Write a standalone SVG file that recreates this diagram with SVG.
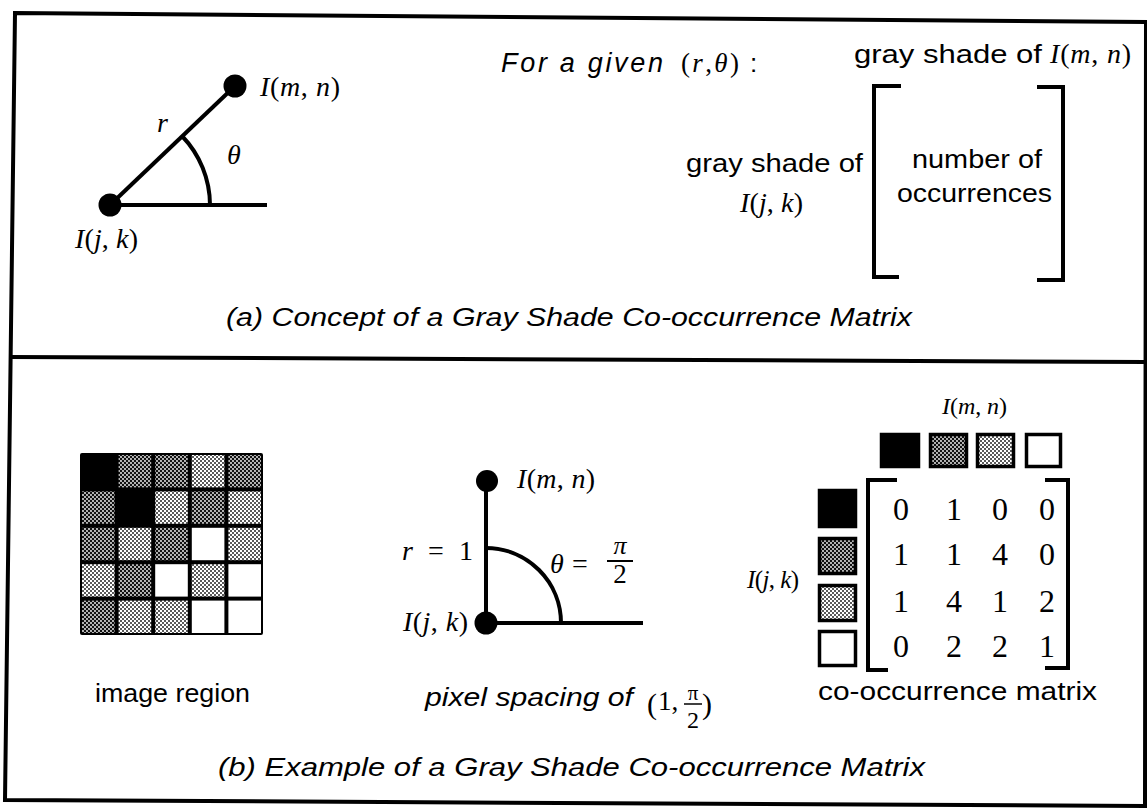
<svg xmlns="http://www.w3.org/2000/svg" width="1147" height="808" viewBox="0 0 1147 808">
<style>
.sans{font-family:"Liberation Sans",Arial,sans-serif;fill:#000}
.si{font-family:"Liberation Sans",Arial,sans-serif;font-style:italic;fill:#000}
.m{font-family:"Liberation Serif","Times New Roman",serif;fill:#000}
.i{font-style:italic}
.ln{stroke:#000;stroke-width:4;fill:none}
.br{stroke:#000;stroke-width:4;fill:none}
.sw{stroke:#000;stroke-width:3.5}
.dot{fill:#000}
</style>
<defs>
<pattern id="dk" width="4" height="4" patternUnits="userSpaceOnUse">
<rect width="4" height="4" fill="#111"/>
<circle cx="1" cy="1" r="0.9" fill="#fff"/>
<circle cx="3" cy="3" r="0.9" fill="#fff"/>
</pattern>
<pattern id="lt" width="4" height="4" patternUnits="userSpaceOnUse">
<rect width="4" height="4" fill="#fff"/>
<circle cx="1" cy="1" r="1" fill="#222"/>
<circle cx="3" cy="3" r="1" fill="#222"/>
</pattern>
</defs>
<rect width="1147" height="808" fill="#fff"/>

<g id="frame">
<polygon points="15,13 1146,22 1145,806 5,800" fill="none" stroke="#000" stroke-width="4"/>
<line x1="10" y1="357" x2="1146" y2="362" stroke="#000" stroke-width="4"/>
</g>

<g id="connectors">
<line class="ln" x1="110" y1="205" x2="235" y2="86"/>
<line class="ln" x1="110" y1="205" x2="267" y2="205"/>
<path class="ln" d="M182,136 A100,100 0 0 1 210,205" stroke-width="3.5"/>
<line class="ln" x1="486" y1="481" x2="486" y2="623"/>
<line class="ln" x1="486" y1="623" x2="643" y2="623"/>
<path class="ln" d="M486,548 A75,75 0 0 1 561,623" stroke-width="3.5"/>
</g>

<g id="node-a-mn">
<circle class="dot" cx="235" cy="86" r="11.5"/>
<text class="m" x="260" y="96" font-size="28" textLength="80" lengthAdjust="spacing"><tspan class="i">I</tspan>(<tspan class="i">m</tspan>, <tspan class="i">n</tspan>)</text>
</g>
<g id="node-a-jk">
<circle class="dot" cx="110" cy="205" r="11.5"/>
<text class="m" x="75" y="248" font-size="28" textLength="63" lengthAdjust="spacing"><tspan class="i">I</tspan>(<tspan class="i">j</tspan>, <tspan class="i">k</tspan>)</text>
</g>
<g id="labels-a">
<text class="m i" x="157" y="132" font-size="28">r</text>
<text class="m i" x="227" y="164" font-size="28">θ</text>
<text class="si" x="501" y="72" font-size="27" textLength="162" lengthAdjust="spacing">For a given</text>
<text class="m" x="681" y="72" font-size="27" textLength="58" lengthAdjust="spacing">(<tspan class="i">r</tspan>,<tspan class="i">θ</tspan>)</text>
<text class="sans" x="750" y="72" font-size="26">:</text>
<text class="sans" x="854" y="63" font-size="26" textLength="188" lengthAdjust="spacingAndGlyphs">gray shade of</text>
<text class="m" x="1050" y="63" font-size="28" textLength="81" lengthAdjust="spacing"><tspan class="i">I</tspan>(<tspan class="i">m</tspan>, <tspan class="i">n</tspan>)</text>
<text class="sans" x="686" y="172" font-size="26" textLength="177" lengthAdjust="spacingAndGlyphs">gray shade of</text>
<text class="m" x="740" y="212" font-size="28" textLength="63" lengthAdjust="spacing"><tspan class="i">I</tspan>(<tspan class="i">j</tspan>, <tspan class="i">k</tspan>)</text>
</g>
<g id="matrix-a">
<path class="br" d="M901,86 H874 V277 H899"/>
<path class="br" d="M1037,87 H1063 V280 H1037"/>
<text class="sans" x="912" y="168" font-size="26" textLength="130" lengthAdjust="spacingAndGlyphs">number of</text>
<text class="sans" x="897" y="202" font-size="26" textLength="155" lengthAdjust="spacingAndGlyphs">occurrences</text>
</g>
<text class="si" x="226" y="326" font-size="26" textLength="686" lengthAdjust="spacingAndGlyphs">(a) Concept of a Gray Shade Co-occurrence Matrix</text>

<g id="image-region">
<rect x="80" y="453" width="183" height="182" fill="#000" rx="2"/>
<rect x="118.6" y="455" width="32.6" height="32.4" fill="url(#dk)"/>
<rect x="155.2" y="455" width="32.6" height="32.4" fill="url(#dk)"/>
<rect x="191.8" y="455" width="32.6" height="32.4" fill="url(#lt)"/>
<rect x="228.4" y="455" width="32.6" height="32.4" fill="url(#dk)"/>
<rect x="82" y="491.4" width="32.6" height="32.4" fill="url(#dk)"/>
<rect x="155.2" y="491.4" width="32.6" height="32.4" fill="url(#lt)"/>
<rect x="191.8" y="491.4" width="32.6" height="32.4" fill="url(#dk)"/>
<rect x="228.4" y="491.4" width="32.6" height="32.4" fill="url(#lt)"/>
<rect x="82" y="527.8" width="32.6" height="32.4" fill="url(#dk)"/>
<rect x="118.6" y="527.8" width="32.6" height="32.4" fill="url(#lt)"/>
<rect x="155.2" y="527.8" width="32.6" height="32.4" fill="url(#dk)"/>
<rect x="191.8" y="527.8" width="32.6" height="32.4" fill="#fff"/>
<rect x="228.4" y="527.8" width="32.6" height="32.4" fill="url(#lt)"/>
<rect x="82" y="564.2" width="32.6" height="32.4" fill="url(#lt)"/>
<rect x="118.6" y="564.2" width="32.6" height="32.4" fill="url(#dk)"/>
<rect x="155.2" y="564.2" width="32.6" height="32.4" fill="#fff"/>
<rect x="191.8" y="564.2" width="32.6" height="32.4" fill="url(#lt)"/>
<rect x="228.4" y="564.2" width="32.6" height="32.4" fill="#fff"/>
<rect x="82" y="600.6" width="32.6" height="32.4" fill="url(#dk)"/>
<rect x="118.6" y="600.6" width="32.6" height="32.4" fill="url(#lt)"/>
<rect x="155.2" y="600.6" width="32.6" height="32.4" fill="url(#lt)"/>
<rect x="191.8" y="600.6" width="32.6" height="32.4" fill="#fff"/>
<rect x="228.4" y="600.6" width="32.6" height="32.4" fill="#fff"/>
<text class="sans" x="95" y="702" font-size="26" textLength="155" lengthAdjust="spacingAndGlyphs">image region</text>
</g>

<g id="node-b-mn">
<circle class="dot" cx="487" cy="481" r="11"/>
<text class="m" x="517" y="488" font-size="28" textLength="78" lengthAdjust="spacing"><tspan class="i">I</tspan>(<tspan class="i">m</tspan>, <tspan class="i">n</tspan>)</text>
</g>
<g id="node-b-jk">
<circle class="dot" cx="486" cy="623" r="11.5"/>
<text class="m" x="403" y="631" font-size="28" textLength="65" lengthAdjust="spacing"><tspan class="i">I</tspan>(<tspan class="i">j</tspan>, <tspan class="i">k</tspan>)</text>
</g>
<g id="labels-b">
<text class="m" x="402" y="560" font-size="28" textLength="71" lengthAdjust="spacing"><tspan class="i">r</tspan> = 1</text>
<text class="m i" x="550" y="573" font-size="28">θ</text>
<text class="m" x="572" y="573" font-size="28">=</text>
<text class="m i" x="620" y="554" font-size="26" text-anchor="middle">π</text>
<line x1="607" y1="561" x2="633" y2="561" stroke="#000" stroke-width="2"/>
<text class="m" x="620" y="583" font-size="27" text-anchor="middle">2</text>
<text class="si" x="425" y="706" font-size="26" textLength="208" lengthAdjust="spacingAndGlyphs">pixel spacing of</text>
<text class="m" x="647" y="714" font-size="30">(</text>
<text class="m" x="658" y="710" font-size="27">1,</text>
<text class="m" x="693" y="700" font-size="21" text-anchor="middle">π</text>
<line x1="684" y1="704" x2="702" y2="704" stroke="#000" stroke-width="1.5"/>
<text class="m" x="693" y="728" font-size="24" text-anchor="middle">2</text>
<text class="m" x="702" y="714" font-size="30">)</text>
</g>

<g id="matrix-b">
<text class="m" x="942" y="414" font-size="24" textLength="65" lengthAdjust="spacing"><tspan class="i">I</tspan>(<tspan class="i">m</tspan>, <tspan class="i">n</tspan>)</text>
<rect class="sw" x="881.5" y="434.5" width="37" height="32" fill="#000"/>
<rect class="sw" x="930.5" y="434.5" width="36" height="32" fill="url(#dk)"/>
<rect class="sw" x="977.5" y="434.5" width="36" height="32" fill="url(#lt)"/>
<rect class="sw" x="1026.5" y="434.5" width="34" height="32" fill="#fff"/>
<text class="m" x="747" y="588" font-size="25" textLength="52" lengthAdjust="spacing"><tspan class="i">I</tspan>(<tspan class="i">j</tspan>, <tspan class="i">k</tspan>)</text>
<rect class="sw" x="819.5" y="490.5" width="36" height="36" fill="#000"/>
<rect class="sw" x="819.5" y="538.5" width="36" height="35" fill="url(#dk)"/>
<rect class="sw" x="819.5" y="585.5" width="36" height="35" fill="url(#lt)"/>
<rect class="sw" x="819.5" y="631.5" width="36" height="34" fill="#fff"/>
<path class="br" d="M897,480 H868 V670 H888"/>
<path class="br" d="M1045,480 H1068 V668 H1045"/>
<g class="m" font-size="32" text-anchor="middle">
<text x="901" y="520">0</text><text x="954" y="520">1</text><text x="1000" y="520">0</text><text x="1047" y="520">0</text>
<text x="901" y="565">1</text><text x="954" y="565">1</text><text x="1000" y="565">4</text><text x="1047" y="565">0</text>
<text x="901" y="612">1</text><text x="954" y="612">4</text><text x="1000" y="612">1</text><text x="1047" y="612">2</text>
<text x="901" y="657">0</text><text x="954" y="657">2</text><text x="1000" y="657">2</text><text x="1047" y="657">1</text>
</g>
<text class="sans" x="818" y="700" font-size="26" textLength="279" lengthAdjust="spacingAndGlyphs">co-occurrence matrix</text>
</g>
<text class="si" x="218" y="776" font-size="26" textLength="707" lengthAdjust="spacingAndGlyphs">(b) Example of a Gray Shade Co-occurrence Matrix</text>
</svg>
